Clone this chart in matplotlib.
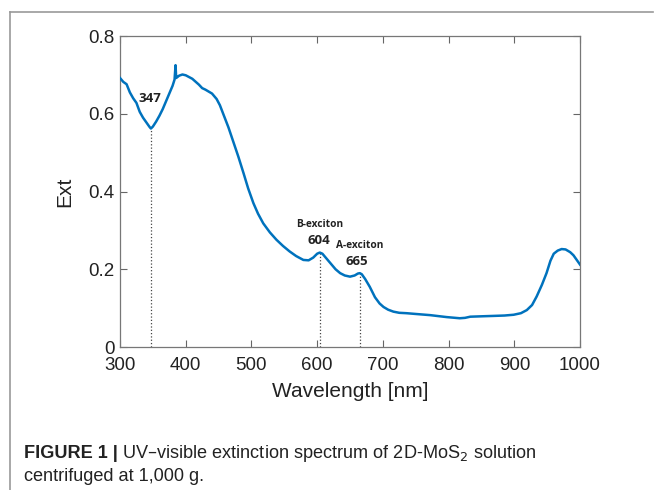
import numpy as np
import matplotlib
matplotlib.use("Agg")
import matplotlib.pyplot as plt
from matplotlib.lines import Line2D

# UV-vis extinction spectrum
wavelength = [300, 305, 310, 315, 320, 325, 330, 335, 340, 345, 347, 350, 355, 360,
              365, 370, 375, 380, 383, 384.5, 385.5, 387, 390, 395, 400, 410, 420,
              425, 430, 440, 447, 452, 457, 465, 472, 480, 488, 495, 503, 510, 518,
              528, 538, 548, 558, 568, 579, 587, 594, 600, 604, 608, 613, 620, 628,
              635, 642, 650, 657, 662, 665, 668, 673, 680, 688, 695, 701, 708, 716,
              725, 736, 750, 772, 797, 817, 825, 833, 850, 868, 885, 899, 910, 919,
              927, 934, 942, 949, 955, 960, 966, 972, 978, 985, 990, 995, 1000]
ext = [0.692, 0.682, 0.676, 0.655, 0.640, 0.628, 0.605, 0.590, 0.578, 0.566, 0.562,
       0.567, 0.580, 0.595, 0.612, 0.632, 0.652, 0.672, 0.688, 0.725, 0.692, 0.694,
       0.698, 0.701, 0.699, 0.690, 0.675, 0.666, 0.662, 0.652, 0.638, 0.622, 0.600,
       0.565, 0.530, 0.490, 0.447, 0.408, 0.370, 0.343, 0.318, 0.295, 0.276, 0.260,
       0.246, 0.234, 0.224, 0.223, 0.230, 0.240, 0.243, 0.240, 0.230, 0.216, 0.200,
       0.190, 0.184, 0.181, 0.184, 0.189, 0.190, 0.187, 0.175, 0.155, 0.128, 0.112,
       0.103, 0.096, 0.091, 0.088, 0.087, 0.085, 0.082, 0.077, 0.074, 0.075, 0.078,
       0.079, 0.080, 0.081, 0.083, 0.087, 0.095, 0.108, 0.130, 0.160, 0.190, 0.222,
       0.240, 0.248, 0.252, 0.251, 0.244, 0.236, 0.224, 0.212]

peak_wl = [347, 604, 665]
peak_ext = [0.562, 0.243, 0.190]
peak_names = ["", "B-exciton", "A-exciton"]

fig = plt.figure(figsize=(6.54, 4.9), dpi=100)
ax = fig.add_axes([0.1835, 0.2918, 0.7034, 0.6347])

ax.plot(wavelength, ext, color="#0072BD", lw=1.8, zorder=3)
for w, e in zip(peak_wl, peak_ext):
    ax.plot([w, w], [0, e], color="#444444", ls=":", lw=0.9, zorder=2)

ann = dict(family="Open Sans", weight="bold", ha="center", va="center", color="#222222")
ax.text(345, 0.638, "347", fontsize=9.5, **ann)
ax.text(604, 0.315, peak_names[1], fontsize=7.3, **ann)
ax.text(602, 0.275, "604", fontsize=9.5, **ann)
ax.text(665, 0.262, peak_names[2], fontsize=7.3, **ann)
ax.text(661, 0.219, "665", fontsize=9.5, **ann)

ax.set_xlim(300, 1000)
ax.set_ylim(0, 0.8)
ax.set_xticks(np.arange(300, 1001, 100))
ax.set_yticks([0, 0.2, 0.4, 0.6, 0.8])
ax.set_yticklabels(["0", "0.2", "0.4", "0.6", "0.8"])
ax.tick_params(direction="in", top=True, right=True, length=5, width=0.8,
               color="#666666", labelsize=13.5, pad=4)
ax.tick_params(axis="x", pad=7)
for lab in ax.get_xticklabels() + ax.get_yticklabels():
    lab.set_family("Liberation Sans")
    lab.set_color("#222222")
for sp in ax.spines.values():
    sp.set_color("#777777")
    sp.set_linewidth(0.9)

ax.set_xlabel("Wavelength [nm]", family="Liberation Sans", fontsize=15, color="#222222", labelpad=6)
ax.set_ylabel("Ext", family="Liberation Sans", fontsize=15, color="#222222", labelpad=10)

# frame around the figure panel
fig.add_artist(Line2D([9.5 / 654, 9.5 / 654], [0, 1 - 12 / 490], transform=fig.transFigure,
                      color="#999999", lw=1.2))
fig.add_artist(Line2D([9.5 / 654, 653 / 654], [1 - 12 / 490, 1 - 12 / 490],
                      transform=fig.transFigure, color="#999999", lw=1.2))

cap = dict(family="Liberation Sans", fontsize=13.1, color="#222222", va="center")
t_bold = fig.text(24 / 654, 1 - 453 / 490, "FIGURE 1 |", weight="bold", **cap)
fig.canvas.draw()
bb = t_bold.get_window_extent(fig.canvas.get_renderer())
fig.text(bb.x1 / 654 + 4 / 654, 1 - 453 / 490,
         "UV–visible extinction spectrum of 2D-MoS$_2$ solution", **cap)
fig.text(24 / 654, 1 - 476 / 490, "centrifuged at 1,000 g.", **cap)

fig.savefig("out.png", dpi=100)
